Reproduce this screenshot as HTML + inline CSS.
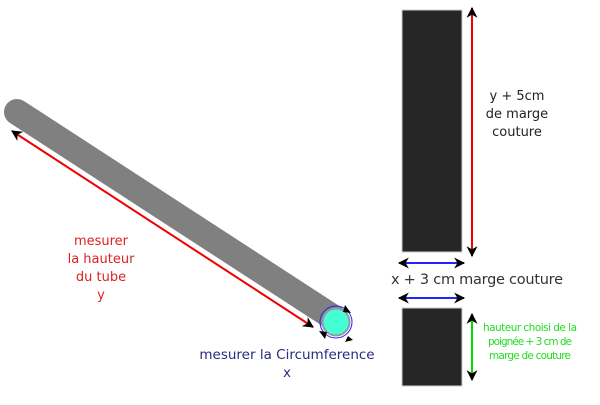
<!DOCTYPE html>
<html><head><style>body{margin:0;background:#fff}</style></head><body>
<svg width="600" height="400" xmlns="http://www.w3.org/2000/svg" font-family="DejaVu Sans, Liberation Sans, sans-serif">
<defs>
<marker id="b" viewBox="0 0 10 10" refX="9" refY="5" markerWidth="13" markerHeight="11" orient="auto-start-reverse" markerUnits="userSpaceOnUse"><path d="M0,0 L10,5 L0,10 L3,5z" fill="#000"/></marker>
</defs>
<line x1="17" y1="112" x2="334" y2="318" stroke="#808080" stroke-width="26" stroke-linecap="round"/>
<line x1="12" y1="131" x2="313" y2="327" stroke="#e00" stroke-width="2" marker-start="url(#b)" marker-end="url(#b)"/>
<circle cx="336" cy="322" r="16" fill="none" stroke="#22f" stroke-width="1"/>
<circle cx="336" cy="322" r="13.5" fill="#44ffd5" stroke="#999" stroke-width="2"/>
<path d="M345,305 l6,8 l-8,-1z M325,339 l-6,-8 l8,1z M348,336 l-3,6 l8,-2z" fill="#000"/>
<text font-size="13" fill="#d22" text-anchor="middle"><tspan x="101" y="245">mesurer</tspan><tspan x="101" y="263">la hauteur</tspan><tspan x="101" y="281">du tube</tspan><tspan x="101" y="299">y</tspan></text>
<text font-size="13.5" fill="#2a2a80" text-anchor="middle"><tspan x="287" y="359">mesurer la Circumference</tspan><tspan x="287" y="377">x</tspan></text>
<rect x="402" y="10" width="60" height="242" fill="#262626" stroke="#ccc" stroke-width="1"/>
<rect x="402" y="308" width="60" height="78" fill="#262626" stroke="#ccc" stroke-width="1"/>
<line x1="472" y1="8" x2="472" y2="256" stroke="#e00" stroke-width="2" marker-start="url(#b)" marker-end="url(#b)"/>
<text font-size="13" fill="#222" text-anchor="middle"><tspan x="517" y="100">y + 5cm</tspan><tspan x="517" y="118">de marge</tspan><tspan x="517" y="136">couture</tspan></text>
<line x1="399" y1="263" x2="464" y2="263" stroke="#22f" stroke-width="2" marker-start="url(#b)" marker-end="url(#b)"/>
<line x1="399" y1="298" x2="464" y2="298" stroke="#22f" stroke-width="2" marker-start="url(#b)" marker-end="url(#b)"/>
<text x="477" y="284" font-size="14.5" fill="#333" text-anchor="middle" textLength="172">x + 3 cm marge couture</text>
<line x1="472" y1="314" x2="472" y2="380" stroke="#0d0" stroke-width="2" marker-start="url(#b)" marker-end="url(#b)"/>
<text font-size="10.5" fill="#2d2" text-anchor="middle"><tspan x="530" y="331" textLength="94">hauteur choisi de la</tspan><tspan x="530" y="345" textLength="84">poignée + 3 cm de</tspan><tspan x="530" y="359" textLength="82">marge de couture</tspan></text>
</svg>
</body></html>
